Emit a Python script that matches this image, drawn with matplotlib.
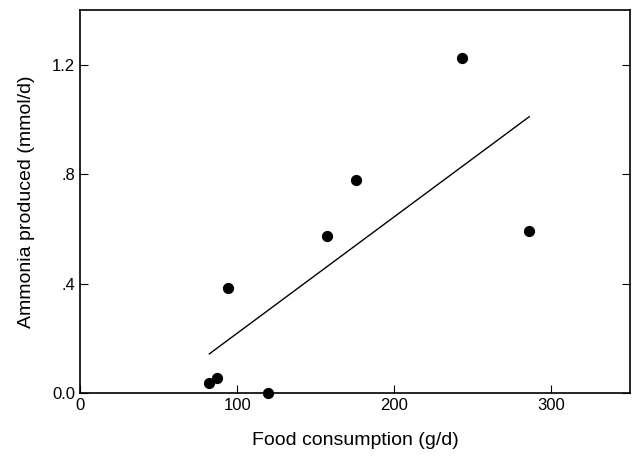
import matplotlib
matplotlib.use("Agg")
import matplotlib.pyplot as plt

food = [82.3, 86.9, 94.3, 119.5, 157.3, 175.8, 242.9, 285.9]
ammonia = [0.038, 0.054, 0.382, 0.0, 0.574, 0.779, 1.226, 0.593]
fit_x = [82.3, 285.9]
fit_y = [0.143, 1.010]

plt.rcParams["font.family"] = ["Liberation Sans", "DejaVu Sans"]
fig = plt.figure(figsize=(6.32, 4.61), dpi=100)
ax = fig.add_axes([80 / 632, 1 - 393 / 461, (630 - 80) / 632, (393 - 10) / 461])

ax.plot(fit_x, fit_y, color="black", lw=1.0)
ax.scatter(food, ammonia, s=50, color="black", zorder=3, clip_on=False)

ax.set_xlim(0, 350)
ax.set_ylim(0, 1.4)
ax.set_xticks([0, 100, 200, 300])
ax.set_yticks([0, 0.4, 0.8, 1.2])
ax.set_yticklabels(["0.0", ".4", ".8", "1.2"])
ax.tick_params(direction="in", length=6, top=False, right=True, labelsize=12)
for s in ax.spines.values():
    s.set_linewidth(1.2)
ax.set_xlabel("Food consumption (g/d)", fontsize=14, labelpad=14)
ax.set_ylabel("Ammonia produced (mmol/d)", fontsize=14, labelpad=12)

fig.savefig("out.png", dpi=100)
